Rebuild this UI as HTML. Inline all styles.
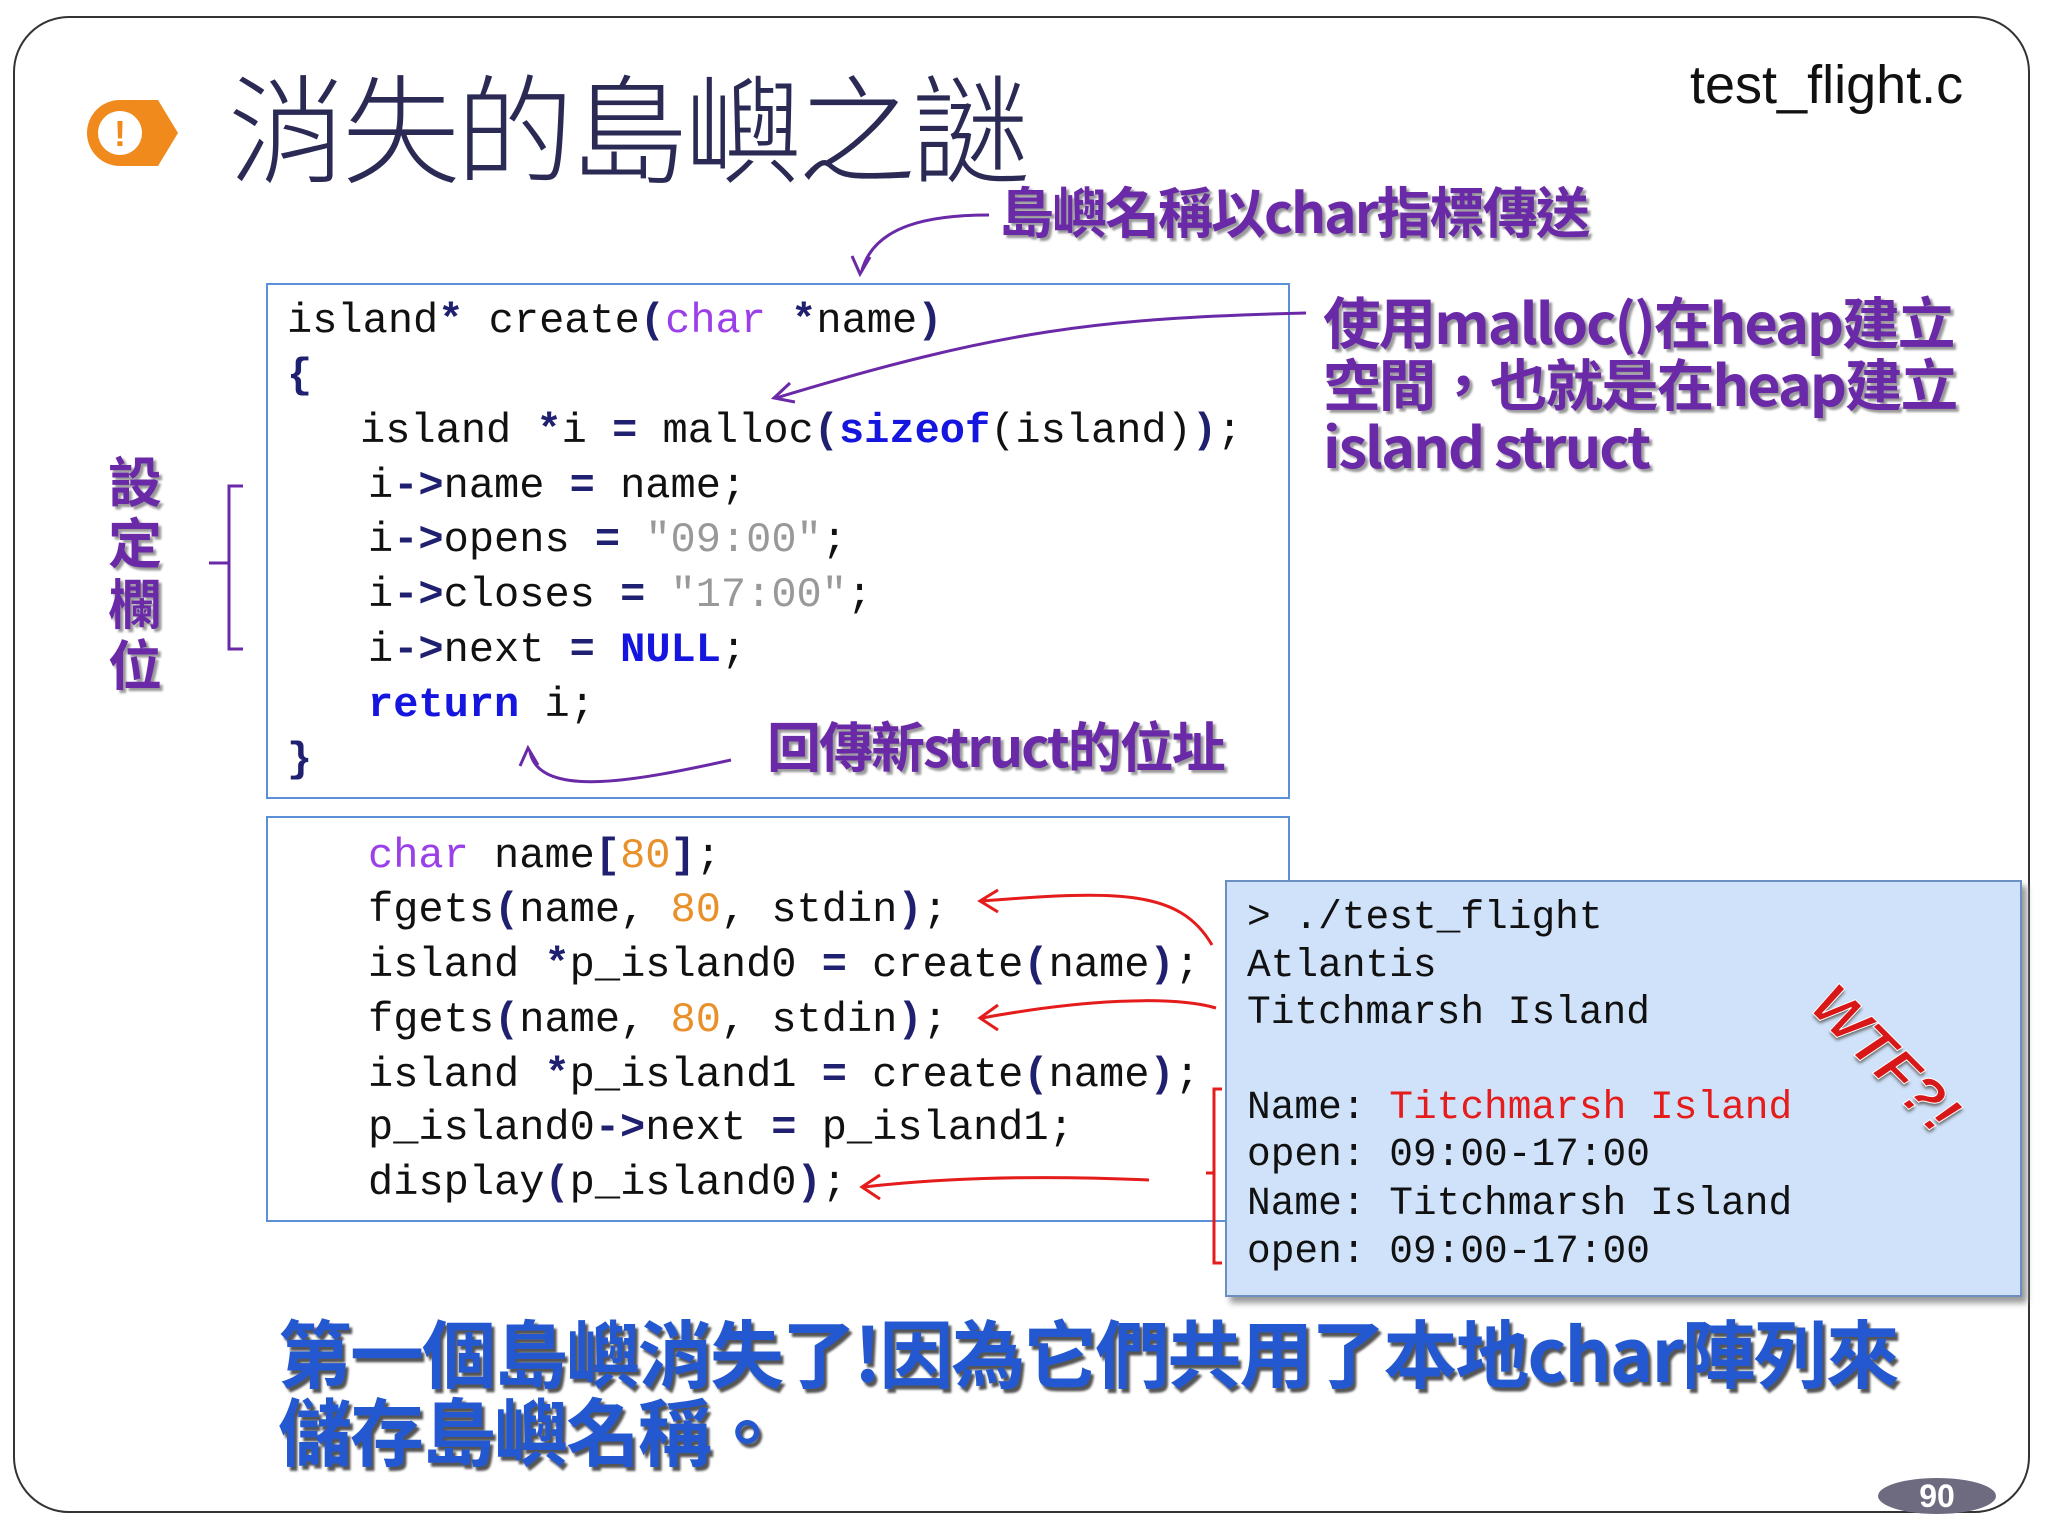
<!DOCTYPE html>
<html><head><meta charset="utf-8"><style>
body{margin:0;width:2048px;height:1536px;background:#fff;position:relative;overflow:hidden;font-family:"Liberation Sans","Noto Sans CJK TC",sans-serif}
.a{position:absolute;white-space:pre;line-height:1}
.code{font-family:"Liberation Mono","Noto Sans CJK TC",monospace;font-size:42px;color:#111}
.term{font-family:"Liberation Mono",monospace;font-size:39.5px;color:#111}
.kw{color:#9b40e8}.bl{color:#1515e0;font-weight:bold}.nu{color:#e8902a}.st{color:#999}.op{color:#202070;font-weight:bold}
.pu{font-family:"Noto Sans CJK TC",sans-serif;font-weight:bold;color:#6a2aa8;text-shadow:3px 3px 2px #999;transform-origin:left center}
.blu{font-family:"Noto Sans CJK TC",sans-serif;font-weight:bold;color:#2358d0;text-shadow:3px 4px 2px #555;transform-origin:left center}
</style></head><body>
<div style="position:absolute;left:13px;top:16px;width:2017px;height:1497px;border:2px solid #333;border-radius:56px;box-sizing:border-box"></div>
<svg class="a" style="left:80px;top:95px" width="110" height="80"><path d="M40 5 h38 l20 33 l-20 33 h-38 z" fill="#f08a1c"/><circle cx="40" cy="38" r="33" fill="#f08a1c"/><circle cx="40" cy="38" r="22" fill="#fff"/><text x="40" y="51" text-anchor="middle" font-family="Liberation Sans" font-weight="bold" font-size="36" fill="#f08a1c">!</text></svg>
<div class="a" style="left:228px;top:64px;font-size:118px;color:#2a2a55;font-family:'Noto Sans CJK TC',sans-serif;font-weight:300;letter-spacing:-4px">消失的島嶼之謎</div>
<div class="a" style="left:1690px;top:58px;font-size:54px;color:#111">test_flight.c</div>
<div class="a pu" style="left:999px;top:182px;font-size:55px;letter-spacing:-2px">島嶼名稱以char指標傳送</div>
<div class="a pu" style="left:1323px;top:290px;font-size:56px;line-height:62px;transform:scaleX(1.03);letter-spacing:-2px">使用malloc()在heap建立
空間，也就是在heap建立
island struct</div>
<div class="a pu" style="left:767px;top:717px;font-size:54px;letter-spacing:-2px">回傳新struct的位址</div>
<div class="a pu" style="left:108px;top:448px;font-size:54px;line-height:61px;white-space:normal;width:60px">設定欄位</div>
<div style="position:absolute;left:266px;top:283px;width:1024px;height:516px;border:2px solid #5b8fd6;box-sizing:border-box"></div>
<div class="a code" style="left:287px;top:300px">island<span class="op">*</span> create<span class="op">(</span><span class="kw">char</span> <span class="op">*</span>name<span class="op">)</span></div>
<div class="a code" style="left:287px;top:355px"><span class="op">{</span></div>
<div class="a code" style="left:360px;top:410px">island <span class="op">*</span>i <span class="op">=</span> malloc<span class="op">(</span><span class="bl">sizeof</span>(island)<span class="op">)</span>;</div>
<div class="a code" style="left:368px;top:465px">i<span class="op">-&gt;</span>name <span class="op">=</span> name;</div>
<div class="a code" style="left:368px;top:519px">i<span class="op">-&gt;</span>opens <span class="op">=</span> <span class="st">"09:00"</span>;</div>
<div class="a code" style="left:368px;top:574px">i<span class="op">-&gt;</span>closes <span class="op">=</span> <span class="st">"17:00"</span>;</div>
<div class="a code" style="left:368px;top:629px">i<span class="op">-&gt;</span>next <span class="op">=</span> <span class="bl">NULL</span>;</div>
<div class="a code" style="left:368px;top:684px"><span class="bl">return</span> i;</div>
<div class="a code" style="left:287px;top:739px"><span class="op">}</span></div>
<div style="position:absolute;left:266px;top:816px;width:1024px;height:406px;border:2px solid #5b8fd6;box-sizing:border-box"></div>
<div class="a code" style="left:368px;top:835px"><span class="kw">char</span> name<span class="op">[</span><span class="nu">80</span><span class="op">]</span>;</div>
<div class="a code" style="left:368px;top:889px">fgets<span class="op">(</span>name, <span class="nu">80</span>, stdin<span class="op">)</span>;</div>
<div class="a code" style="left:368px;top:944px">island <span class="op">*</span>p_island0 <span class="op">=</span> create<span class="op">(</span>name<span class="op">)</span>;</div>
<div class="a code" style="left:368px;top:999px">fgets<span class="op">(</span>name, <span class="nu">80</span>, stdin<span class="op">)</span>;</div>
<div class="a code" style="left:368px;top:1054px">island <span class="op">*</span>p_island1 <span class="op">=</span> create<span class="op">(</span>name<span class="op">)</span>;</div>
<div class="a code" style="left:368px;top:1107px">p_island0<span class="op">-&gt;</span>next <span class="op">=</span> p_island1;</div>
<div class="a code" style="left:368px;top:1162px">display<span class="op">(</span>p_island0<span class="op">)</span>;</div>
<div style="position:absolute;left:1225px;top:880px;width:797px;height:417px;background:#cfe2fa;border:2px solid #6a8fc0;box-sizing:border-box;box-shadow:5px 6px 6px #999"></div>
<div class="a term" style="left:1247px;top:898px">&gt; ./test_flight</div>
<div class="a term" style="left:1247px;top:946px">Atlantis</div>
<div class="a term" style="left:1247px;top:993px">Titchmarsh Island</div>
<div class="a term" style="left:1247px;top:1088px">Name: <span style="color:#e51c1c">Titchmarsh Island</span></div>
<div class="a term" style="left:1247px;top:1135px">open: 09:00-17:00</div>
<div class="a term" style="left:1247px;top:1184px">Name: Titchmarsh Island</div>
<div class="a term" style="left:1247px;top:1232px">open: 09:00-17:00</div>
<div class="a" style="left:1795px;top:1030px;font-size:58px;font-weight:bold;font-style:italic;color:#d81818;-webkit-text-stroke:1px #fff;text-shadow:2px 2px 3px #666;transform:rotate(45deg);transform-origin:center">WTF?!</div>
<div class="a blu" style="left:278px;top:1314px;font-size:74px;letter-spacing:-2px">第一個島嶼消失了!因為它們共用了本地char陣列來</div>
<div class="a blu" style="left:278px;top:1392px;font-size:74px;letter-spacing:-2px">儲存島嶼名稱。</div>
<div style="position:absolute;left:1878px;top:1478px;width:118px;height:36px;border-radius:50%;background:#6e6a80"></div>
<div class="a" style="left:1878px;top:1480px;width:118px;text-align:center;font-size:32px;font-weight:bold;color:#fff">90</div>
<svg class="a" style="left:0;top:0" width="2048" height="1536">
<g fill="none" stroke="#6a2aa8" stroke-width="3">
<path d="M989 215 C930 215 875 225 862 270"/><path d="M852 256 L860 274 L870 257"/>
<path d="M1306 313 C1100 318 1000 330 776 398"/><path d="M790 383 L774 398 L795 402"/>
<path d="M731 760 C640 780 540 800 530 752"/><path d="M520 766 L528 748 L538 765"/>
<path d="M243 486 h-14 v77 h-20 h20 v86 h14"/>
</g>
<g fill="none" stroke="#e51c1c" stroke-width="3">
<path d="M1212 945 C1180 890 1120 890 982 901"/><path d="M998 890 L980 901 L998 912"/>
<path d="M1216 1008 C1170 995 1080 1000 982 1018"/><path d="M998 1005 L980 1018 L998 1030"/>
<path d="M1149 1180 C1060 1176 960 1176 864 1187"/><path d="M880 1175 L862 1187 L880 1199"/>
<path d="M1222 1089 h-8 v84 h-8 h8 v90 h8"/>
</g>
</svg>
</body></html>
